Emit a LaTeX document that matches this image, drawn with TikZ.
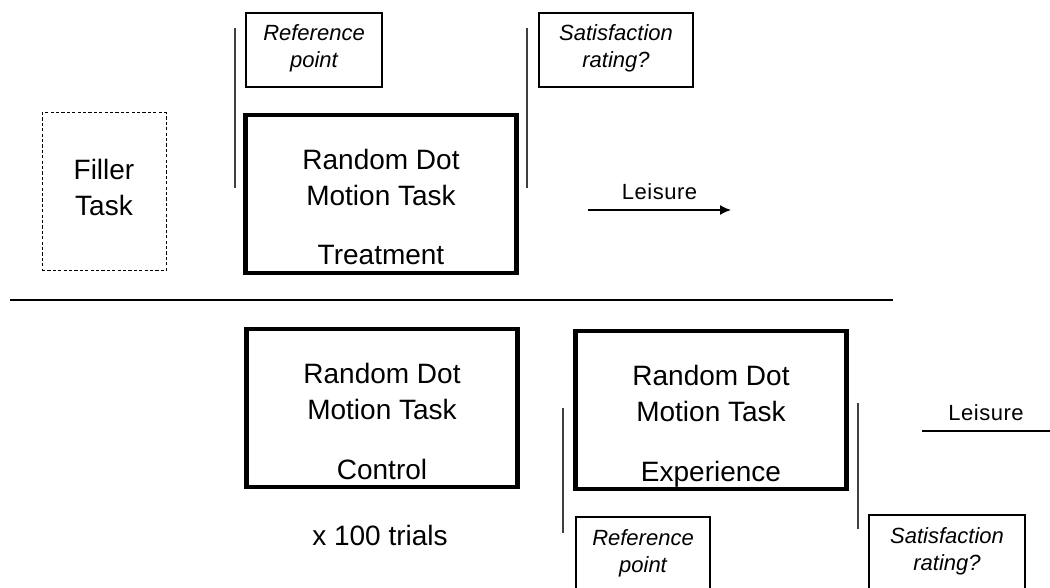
\documentclass[tikz,border=0pt]{standalone}
\usepackage{fontspec}
\setmainfont{Liberation Sans}
\usetikzlibrary{arrows.meta}

\begin{document}
\begin{tikzpicture}[x=0.5pt,y=-0.5pt,
  txt/.style={anchor=base, inner sep=0, font=\fontsize{14}{18}\selectfont},
  smalltxt/.style={anchor=base, inner sep=0, font=\fontsize{11}{13}\selectfont\itshape},
  taskbox/.style={draw, line width=2.2pt, minimum width=135.5pt, minimum height=79pt, inner sep=0},
  fillerbox/.style={draw, line width=0.5pt, dash pattern=on 1.6pt off 1.1pt, minimum width=62pt, minimum height=79pt, inner sep=0},
  notebox/.style={draw, line width=0.7pt, minimum height=37pt, inner sep=0},
  marker/.style={black!75, line width=0.7pt}]
\useasboundingbox (0,0) rectangle (1050,588);
\clip (0,0) rectangle (1050,588);

% filler task
\node[fillerbox] (filler) at (104,192) {};
\node[txt] (filler-a) at (104,180) {Filler};
\node[txt] (filler-b) at (104,216) {Task};

% the three dot motion tasks
\foreach \n/\x/\y/\lab in {treat/381/194/Treatment, ctrl/382/408/Control, exper/711/410/Experience} {
  \node[taskbox] (\n) at (\x,\y) {};
  \node[txt] (\n-a) at (\x,\y-24) {Random Dot};
  \node[txt] (\n-b) at (\x,\y+12) {Motion Task};
  \node[txt] (\n-c) at (\x,\y+71) {\lab};
}
\node[txt] (trials) at (380,545) {x 100 trials};

% question boxes
\foreach \n/\x/\y/\w/\ta/\tb in {refA/314/50/68/Reference/point, satA/616/50/77/Satisfaction/rating?,
    refB/643/554/67/Reference/point, satB/947/552/78/Satisfaction/rating?} {
  \node[notebox, minimum width=\w pt] (\n) at (\x,\y) {};
  \node[smalltxt] (\n-a) at (\x,\y-9) {\ta};
  \node[smalltxt] (\n-b) at (\x,\y+18) {\tb};
}

% time markers
\foreach \n/\x/\ya/\yb in {mA/235/28/188, mB/527/28/188, mC/563/408/533, mD/858/403/529} {
  \coordinate (\n-top) at (\x,\ya);
  \coordinate (\n-bot) at (\x,\yb);
  \draw[marker] (\n-top) -- (\n-bot);
}

% leisure
\coordinate (leisA-s) at (588,210);
\coordinate (leisA-e) at (731,210);
\draw[line width=0.7pt, -{Latex[length=5.5pt,width=5pt]}] (leisA-s) -- node[midway, above, yshift=5pt, smalltxt, font=\fontsize{11}{13}\selectfont\addfontfeature{LetterSpace=2.5}, anchor=south] (leisA) {Leisure} (leisA-e);
\coordinate (leisB-s) at (922,431);
\coordinate (leisB-e) at (1050,431);
\draw[line width=0.7pt] (leisB-s) -- node[midway, above, yshift=5pt, smalltxt, font=\fontsize{11}{13}\selectfont\addfontfeature{LetterSpace=2.5}, anchor=south] (leisB) {Leisure} (leisB-e);

% divider
\coordinate (divL) at (10,300);
\coordinate (divR) at (893,300);
\draw[line width=1pt] (divL) -- (divR);
\end{tikzpicture}
\end{document}
